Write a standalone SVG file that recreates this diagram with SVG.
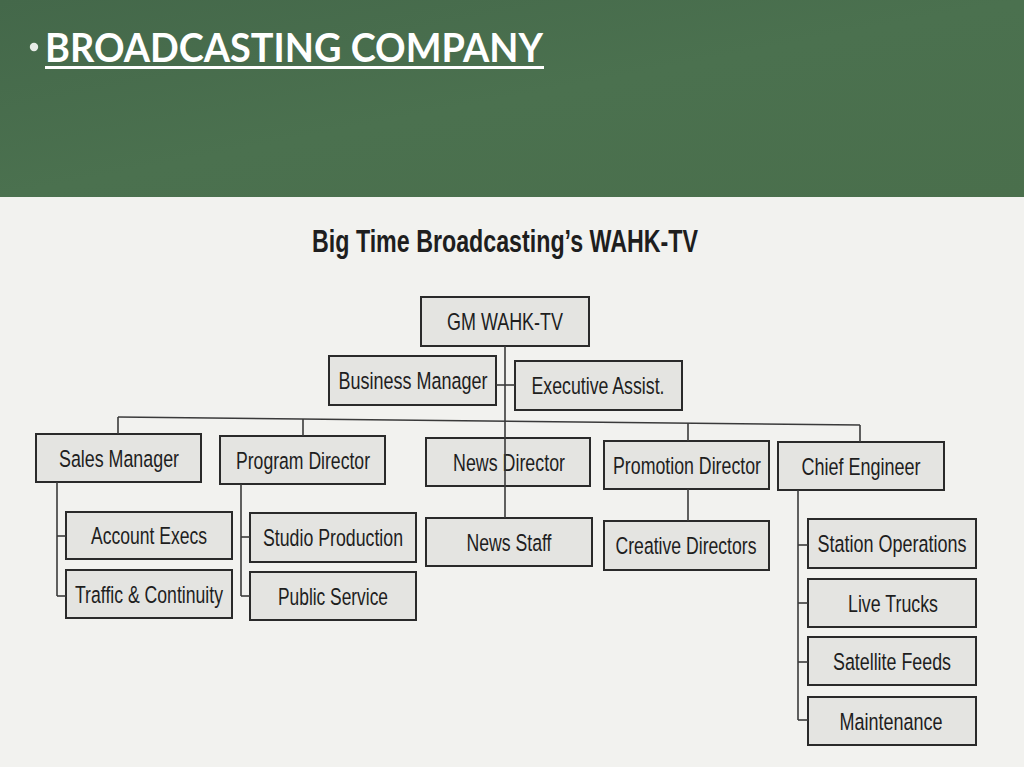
<svg xmlns="http://www.w3.org/2000/svg" width="1024" height="767" viewBox="0 0 1024 767">
<style>
.box{fill:#e4e4e1;stroke:#2a2a2a;stroke-width:2}
.lbl{font-family:"Liberation Sans Narrow","Liberation Sans",Arial,sans-serif;font-size:24.5px;fill:#1e1e1e;text-anchor:middle}
.ln{stroke:#3a3a3a;stroke-width:1.6;fill:none}
</style>
<defs>
<linearGradient id="hdr" x1="0" y1="0" x2="1" y2="1">
<stop offset="0" stop-color="#44684a"/>
<stop offset="0.5" stop-color="#4b714f"/>
<stop offset="1" stop-color="#4a6f4c"/>
</linearGradient>
</defs>
<rect x="0" y="0" width="1024" height="767" fill="#f2f2ef"/>
<rect x="0" y="0" width="1024" height="197" fill="url(#hdr)"/>
<g id="header">
<circle cx="34" cy="47" r="4.2" fill="#e8ece8"/>
<text x="45" y="62" font-family="Lato,'Open Sans','Liberation Sans',sans-serif" font-weight="bold" font-size="40" fill="#ffffff" textLength="498" lengthAdjust="spacingAndGlyphs">BROADCASTING COMPANY</text>
<rect x="45" y="66" width="499" height="3" fill="#ffffff"/>
</g>
<text id="chart-title" x="312" y="252" font-family="'Liberation Sans Narrow','Liberation Sans',Arial,sans-serif" font-weight="bold" font-size="32" fill="#1e1e1e" textLength="386" lengthAdjust="spacingAndGlyphs">Big Time Broadcasting’s WAHK-TV</text>
<g id="gm"><rect class="box" x="421" y="297" width="168" height="49"/><text class="lbl" x="505" y="330" textLength="116" lengthAdjust="spacingAndGlyphs">GM WAHK-TV</text></g>
<g id="business-manager"><rect class="box" x="329" y="356" width="167" height="49"/><text class="lbl" x="413" y="389" textLength="149" lengthAdjust="spacingAndGlyphs">Business Manager</text></g>
<g id="executive-assist"><rect class="box" x="515" y="361" width="167" height="49"/><text class="lbl" x="598" y="394" textLength="133" lengthAdjust="spacingAndGlyphs">Executive Assist.</text></g>
<g id="sales-manager"><rect class="box" x="36" y="434" width="165" height="48"/><text class="lbl" x="119" y="467" textLength="120" lengthAdjust="spacingAndGlyphs">Sales Manager</text></g>
<g id="program-director"><rect class="box" x="220" y="436" width="165" height="48"/><text class="lbl" x="303" y="469" textLength="134" lengthAdjust="spacingAndGlyphs">Program Director</text></g>
<g id="news-director"><rect class="box" x="426" y="438" width="164" height="48"/><text class="lbl" x="509" y="471" textLength="112" lengthAdjust="spacingAndGlyphs">News Director</text></g>
<g id="promotion-director"><rect class="box" x="604" y="441" width="165" height="48"/><text class="lbl" x="687" y="474" textLength="148" lengthAdjust="spacingAndGlyphs">Promotion Director</text></g>
<g id="chief-engineer"><rect class="box" x="778" y="442" width="166" height="48"/><text class="lbl" x="861" y="475" textLength="119" lengthAdjust="spacingAndGlyphs">Chief Engineer</text></g>
<g id="account-execs"><rect class="box" x="66" y="512" width="166" height="47"/><text class="lbl" x="149" y="544" textLength="116" lengthAdjust="spacingAndGlyphs">Account Execs</text></g>
<g id="traffic-continuity"><rect class="box" x="66" y="570" width="166" height="48"/><text class="lbl" x="149" y="603" textLength="148" lengthAdjust="spacingAndGlyphs">Traffic &amp; Continuity</text></g>
<g id="studio-production"><rect class="box" x="250" y="513" width="166" height="49"/><text class="lbl" x="333" y="546" textLength="140" lengthAdjust="spacingAndGlyphs">Studio Production</text></g>
<g id="public-service"><rect class="box" x="250" y="572" width="166" height="48"/><text class="lbl" x="333" y="605" textLength="110" lengthAdjust="spacingAndGlyphs">Public Service</text></g>
<g id="news-staff"><rect class="box" x="426" y="518" width="166" height="48"/><text class="lbl" x="509" y="551" textLength="85" lengthAdjust="spacingAndGlyphs">News Staff</text></g>
<g id="creative-directors"><rect class="box" x="604" y="521" width="165" height="49"/><text class="lbl" x="686" y="554" textLength="141" lengthAdjust="spacingAndGlyphs">Creative Directors</text></g>
<g id="station-operations"><rect class="box" x="808" y="519" width="168" height="49"/><text class="lbl" x="892" y="552" textLength="149" lengthAdjust="spacingAndGlyphs">Station Operations</text></g>
<g id="live-trucks"><rect class="box" x="808" y="579" width="168" height="48"/><text class="lbl" x="893" y="612" textLength="90" lengthAdjust="spacingAndGlyphs">Live Trucks</text></g>
<g id="satellite-feeds"><rect class="box" x="808" y="637" width="168" height="48"/><text class="lbl" x="892" y="670" textLength="118" lengthAdjust="spacingAndGlyphs">Satellite Feeds</text></g>
<g id="maintenance"><rect class="box" x="808" y="697" width="168" height="48"/><text class="lbl" x="891" y="730" textLength="103" lengthAdjust="spacingAndGlyphs">Maintenance</text></g>
<g id="connectors">
<line class="ln" x1="505" y1="346" x2="505" y2="518"/>
<line class="ln" x1="496" y1="385" x2="515" y2="385"/>
<line class="ln" x1="118" y1="417" x2="860" y2="425"/>
<line class="ln" x1="118" y1="417" x2="118" y2="434"/>
<line class="ln" x1="303" y1="419" x2="303" y2="436"/>
<line class="ln" x1="688" y1="423" x2="688" y2="441"/>
<line class="ln" x1="688" y1="489" x2="688" y2="521"/>
<line class="ln" x1="860" y1="425" x2="860" y2="442"/>
<line class="ln" x1="57" y1="482" x2="57" y2="596"/>
<line class="ln" x1="57" y1="536" x2="66" y2="536"/>
<line class="ln" x1="57" y1="596" x2="66" y2="596"/>
<line class="ln" x1="241" y1="484" x2="241" y2="596"/>
<line class="ln" x1="241" y1="537" x2="250" y2="537"/>
<line class="ln" x1="241" y1="596" x2="250" y2="596"/>
<line class="ln" x1="798" y1="490" x2="798" y2="720"/>
<line class="ln" x1="798" y1="545" x2="808" y2="545"/>
<line class="ln" x1="798" y1="603" x2="808" y2="603"/>
<line class="ln" x1="798" y1="662" x2="808" y2="662"/>
<line class="ln" x1="798" y1="720" x2="808" y2="720"/>
</g>
</svg>
